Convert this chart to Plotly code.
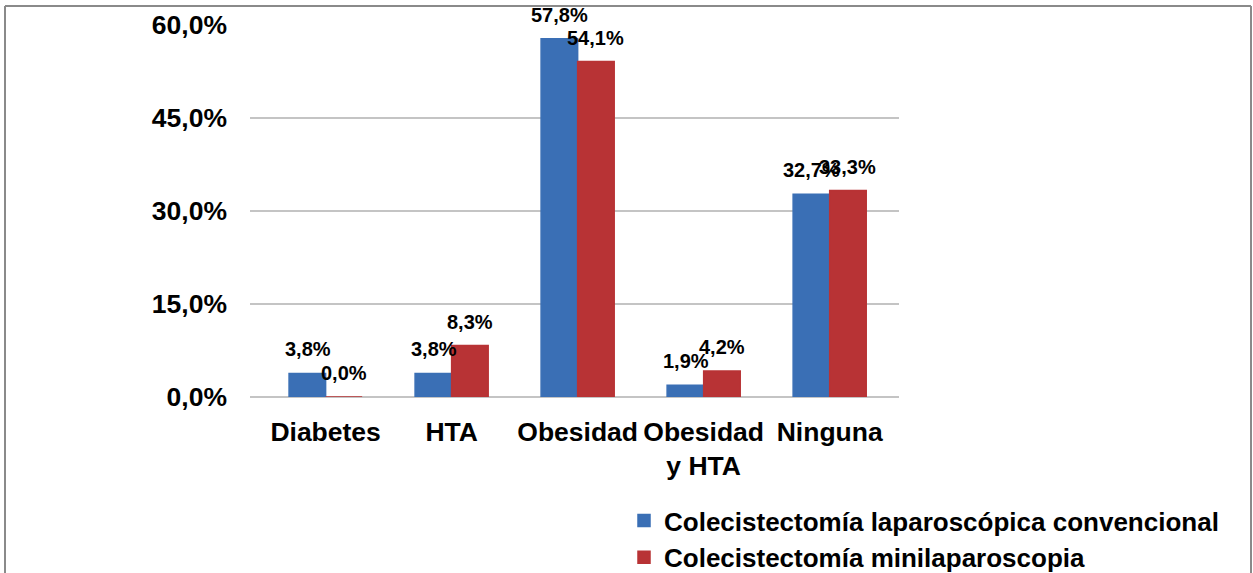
import plotly.graph_objects as go

# Comorbilidades por grupo quirúrgico (%)
categorias = ["Diabetes", "HTA", "Obesidad", "Obesidad<br>y HTA", "Ninguna"]
convencional = [3.8, 3.8, 57.8, 1.9, 32.7]
minilaparoscopia = [0.0, 8.3, 54.1, 4.2, 33.3]
nombres = ["Colecistectomía laparoscópica convencional", "Colecistectomía minilaparoscopia"]
y_ticks = [0, 15, 30, 45, 60]


def pct(v):
    return f"{v:.1f}".replace(".", ",") + "%"


AZUL = "#3a6fb5"
ROJO = "#b83335"
FUENTE = "Liberation Sans, Arial, sans-serif"

W, H = 1253, 573
ML, MR, MT, MB = 250, 354, 25, 176

fig = go.Figure()
for nombre, valores, color in [(nombres[0], convencional, AZUL), (nombres[1], minilaparoscopia, ROJO)]:
    fig.add_trace(go.Bar(
        x=categorias, y=valores, name=nombre,
        marker=dict(color=color, line=dict(color=color, width=1.5)),
    ))

# etiquetas de valor sobre cada barra
desplaz = 18
for valores, dx in [(convencional, -desplaz), (minilaparoscopia, desplaz)]:
    for cat, v in zip(categorias, valores):
        fig.add_annotation(
            x=cat, y=v, xref="x", yref="y",
            text=pct(v),
            showarrow=False, xshift=dx, yshift=11, yanchor="bottom",
            font=dict(family=FUENTE, size=20, color="black", weight="bold"),
        )

# marco exterior del gráfico (arriba, izquierda, derecha)
pw, ph = W - ML - MR, H - MT - MB


def px(x):
    return (x - ML) / pw


def py(y):
    return (H - MB - y) / ph


marco = dict(color="#8a8a8a", width=2)
fig.add_shape(type="line", xref="paper", yref="paper", x0=px(5), x1=px(1251), y0=py(6), y1=py(6), line=marco)
fig.add_shape(type="line", xref="paper", yref="paper", x0=px(5), x1=px(5), y0=py(6), y1=py(600), line=marco)
fig.add_shape(type="line", xref="paper", yref="paper", x0=px(1251), x1=px(1251), y0=py(6), y1=py(600), line=marco)

fig.update_layout(
    width=W, height=H,
    margin=dict(l=ML, r=MR, t=MT, b=MB, autoexpand=False),
    paper_bgcolor="white", plot_bgcolor="white",
    separators=",.",
    barmode="group", bargap=0.42, bargroupgap=0,
    font=dict(family=FUENTE, color="black"),
    xaxis=dict(
        range=[-0.6, 4.55], showgrid=False, showline=False, ticks="",
        tickfont=dict(family=FUENTE, size=26.5, color="black", weight="bold"),
        ticklabelstandoff=16, automargin=False,
    ),
    yaxis=dict(
        range=[0, 60], tickmode="array", tickvals=y_ticks, ticktext=[pct(t) for t in y_ticks],
        showgrid=True, gridcolor="#c4c4c4", gridwidth=2,
        zeroline=True, zerolinecolor="#c4c4c4", zerolinewidth=2,
        showline=False, ticks="",
        tickfont=dict(family=FUENTE, size=26.5, color="black", weight="bold"),
        ticklabelstandoff=22, automargin=False,
    ),
    legend=dict(
        x=px(624), y=py(497), xanchor="left", yanchor="top",
        font=dict(family=FUENTE, size=26, color="black", weight="bold"),
        bgcolor="rgba(0,0,0,0)", tracegroupgap=0, itemwidth=30,
    ),
    showlegend=True,
)

fig.write_html("out.html")
